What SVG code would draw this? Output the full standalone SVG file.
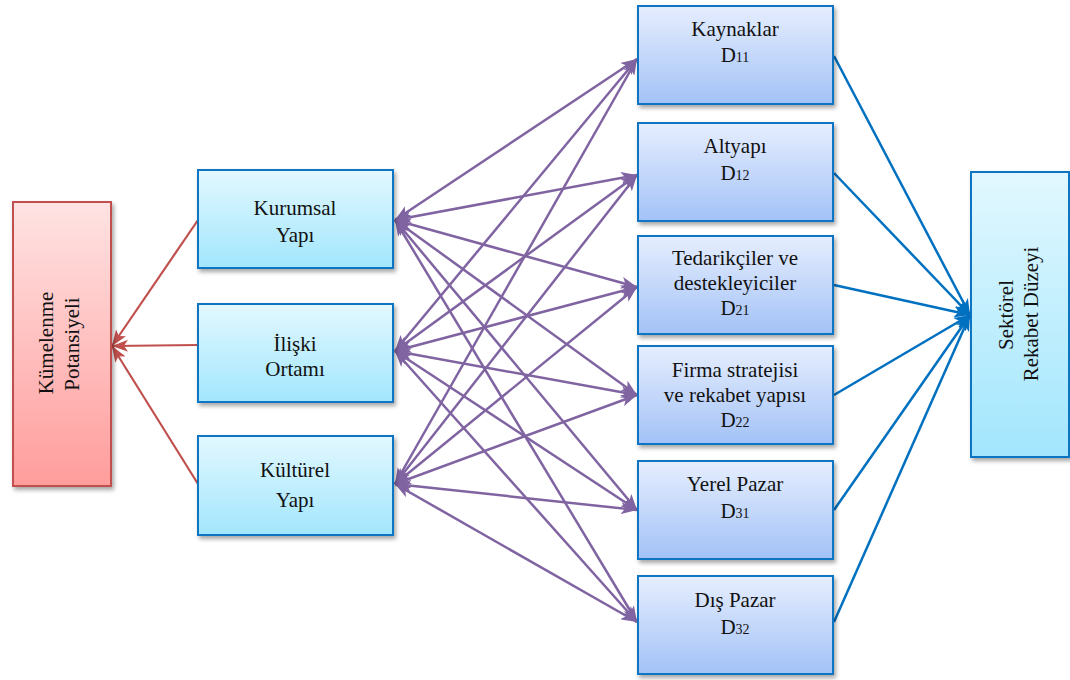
<svg xmlns="http://www.w3.org/2000/svg" width="1070" height="680" viewBox="0 0 1070 680" font-family="'Liberation Serif', 'DejaVu Serif', serif">
  <defs>
    <linearGradient id="gCyan" x1="0" y1="0" x2="0" y2="1">
      <stop offset="0" stop-color="#e2f8ff"/>
      <stop offset="1" stop-color="#a2e6fd"/>
    </linearGradient>
    <linearGradient id="gBlue" x1="0" y1="0" x2="0" y2="1">
      <stop offset="0" stop-color="#e6eefe"/>
      <stop offset="1" stop-color="#a3c2f7"/>
    </linearGradient>
    <linearGradient id="gPink" x1="0" y1="0" x2="0" y2="1">
      <stop offset="0" stop-color="#ffe3e3"/>
      <stop offset="1" stop-color="#ff9d9c"/>
    </linearGradient>
    <filter id="shadow" x="-10%" y="-10%" width="130%" height="130%">
      <feDropShadow dx="2" dy="3" stdDeviation="2" flood-color="#000" flood-opacity="0.35"/>
    </filter>
    <marker id="arrRed" viewBox="0 0 16 12" refX="16" refY="6" markerWidth="16" markerHeight="12" markerUnits="userSpaceOnUse" orient="auto-start-reverse">
      <path d="M0,0 L16,6 L0,12 L4,6 z" fill="#c0504d"/>
    </marker>
    <marker id="arrPurple" viewBox="0 0 16 12" refX="16" refY="6" markerWidth="16" markerHeight="12" markerUnits="userSpaceOnUse" orient="auto-start-reverse">
      <path d="M0,0 L16,6 L0,12 L4,6 z" fill="#8064a2"/>
    </marker>
    <marker id="arrBlue" viewBox="0 0 16 12" refX="16" refY="6" markerWidth="16" markerHeight="12" markerUnits="userSpaceOnUse" orient="auto-start-reverse">
      <path d="M0,0 L16,6 L0,12 L4,6 z" fill="#0070c0"/>
    </marker>
  </defs>
  <style>
    .box { stroke-width: 2; filter: url(#shadow); }
    .cyan { fill: url(#gCyan); stroke: #0a74c2; }
    .blue { fill: url(#gBlue); stroke: #0a74c2; }
    .pink { fill: url(#gPink); stroke: #c0504d; }
    text { font-family: 'Liberation Serif', 'DejaVu Serif', serif; }
    .lbl { font-size: 21px; fill: #111; text-anchor: middle; }
    .sub { font-size: 14px; }
    .red { stroke: #c0504d; stroke-width: 2.2; fill: none; marker-end: url(#arrRed); }
    .purple { stroke: #8064a2; stroke-width: 2.5; fill: none; marker-start: url(#arrPurple); marker-end: url(#arrPurple); }
    .bl { stroke: #0070c0; stroke-width: 2.5; fill: none; marker-end: url(#arrBlue); }
  </style>

  <!-- connectors -->
  <g id="connectors">
    <!-- left boxes to Kümelenme Potansiyeli -->
    <line class="red" x1="198" y1="220" x2="112" y2="346"/>
    <line class="red" x1="198" y1="345" x2="112" y2="346"/>
    <line class="red" x1="198" y1="484" x2="112" y2="346"/>

    <!-- left boxes to right boxes (two-way) -->
    <line class="purple" x1="395" y1="220" x2="637" y2="59"/>
    <line class="purple" x1="395" y1="220" x2="637" y2="175"/>
    <line class="purple" x1="395" y1="220" x2="637" y2="287"/>
    <line class="purple" x1="395" y1="220" x2="637" y2="395"/>
    <line class="purple" x1="395" y1="220" x2="637" y2="510"/>
    <line class="purple" x1="395" y1="220" x2="637" y2="622"/>

    <line class="purple" x1="395" y1="351" x2="637" y2="59"/>
    <line class="purple" x1="395" y1="351" x2="637" y2="175"/>
    <line class="purple" x1="395" y1="351" x2="637" y2="287"/>
    <line class="purple" x1="395" y1="351" x2="637" y2="395"/>
    <line class="purple" x1="395" y1="351" x2="637" y2="510"/>
    <line class="purple" x1="395" y1="351" x2="637" y2="622"/>

    <line class="purple" x1="395" y1="484" x2="637" y2="59"/>
    <line class="purple" x1="395" y1="484" x2="637" y2="175"/>
    <line class="purple" x1="395" y1="484" x2="637" y2="287"/>
    <line class="purple" x1="395" y1="484" x2="637" y2="395"/>
    <line class="purple" x1="395" y1="484" x2="637" y2="510"/>
    <line class="purple" x1="395" y1="484" x2="637" y2="622"/>

    <!-- right boxes to Sektörel Rekabet Düzeyi -->
    <line class="bl" x1="834" y1="56" x2="970" y2="315"/>
    <line class="bl" x1="834" y1="173" x2="970" y2="315"/>
    <line class="bl" x1="834" y1="285" x2="970" y2="315"/>
    <line class="bl" x1="834" y1="395" x2="970" y2="315"/>
    <line class="bl" x1="834" y1="510" x2="970" y2="315"/>
    <line class="bl" x1="834" y1="622" x2="970" y2="315"/>
  </g>

  <!-- Kümelenme Potansiyeli -->
  <g id="kumelenme">
    <rect class="box pink" x="13" y="202" width="98" height="284"/>
    <text class="lbl" transform="translate(53,343) rotate(-90)">Kümelenme</text>
    <text class="lbl" transform="translate(79,344) rotate(-90)">Potansiyeli</text>
  </g>

  <!-- left column -->
  <g id="kurumsal">
    <rect class="box cyan" x="198" y="170" width="195" height="98"/>
    <text class="lbl" x="295" y="215">Kurumsal</text>
    <text class="lbl" x="295" y="242">Yapı</text>
  </g>
  <g id="iliski">
    <rect class="box cyan" x="198" y="304" width="195" height="98"/>
    <text class="lbl" x="295" y="351">İlişki</text>
    <text class="lbl" x="295" y="376">Ortamı</text>
  </g>
  <g id="kulturel">
    <rect class="box cyan" x="198" y="436" width="195" height="99"/>
    <text class="lbl" x="295" y="477">Kültürel</text>
    <text class="lbl" x="295" y="507">Yapı</text>
  </g>

  <!-- right column -->
  <g id="kaynaklar">
    <rect class="box blue" x="638" y="6" width="195" height="98"/>
    <text class="lbl" x="735" y="36">Kaynaklar</text>
    <text class="lbl" x="735" y="62">D<tspan class="sub">11</tspan></text>
  </g>
  <g id="altyapi">
    <rect class="box blue" x="638" y="123" width="195" height="98"/>
    <text class="lbl" x="735" y="153">Altyapı</text>
    <text class="lbl" x="735" y="180">D<tspan class="sub">12</tspan></text>
  </g>
  <g id="tedarikciler">
    <rect class="box blue" x="638" y="236" width="195" height="98"/>
    <text class="lbl" x="735" y="265">Tedarikçiler ve</text>
    <text class="lbl" x="735" y="290">destekleyiciler</text>
    <text class="lbl" x="735" y="315">D<tspan class="sub">21</tspan></text>
  </g>
  <g id="firma">
    <rect class="box blue" x="638" y="346" width="195" height="98"/>
    <text class="lbl" x="735" y="377">Firma stratejisi</text>
    <text class="lbl" x="735" y="402">ve rekabet yapısı</text>
    <text class="lbl" x="735" y="427">D<tspan class="sub">22</tspan></text>
  </g>
  <g id="yerelpazar">
    <rect class="box blue" x="638" y="461" width="195" height="98"/>
    <text class="lbl" x="735" y="491">Yerel Pazar</text>
    <text class="lbl" x="735" y="518">D<tspan class="sub">31</tspan></text>
  </g>
  <g id="dispazar">
    <rect class="box blue" x="638" y="576" width="195" height="98"/>
    <text class="lbl" x="735" y="607">Dış Pazar</text>
    <text class="lbl" x="735" y="634">D<tspan class="sub">32</tspan></text>
  </g>

  <!-- Sektörel Rekabet Düzeyi -->
  <g id="sektorel">
    <rect class="box cyan" x="971" y="172" width="98" height="285"/>
    <text class="lbl" transform="translate(1013,315) rotate(-90)">Sektörel</text>
    <text class="lbl" transform="translate(1038,314) rotate(-90)">Rekabet Düzeyi</text>
  </g>
</svg>
